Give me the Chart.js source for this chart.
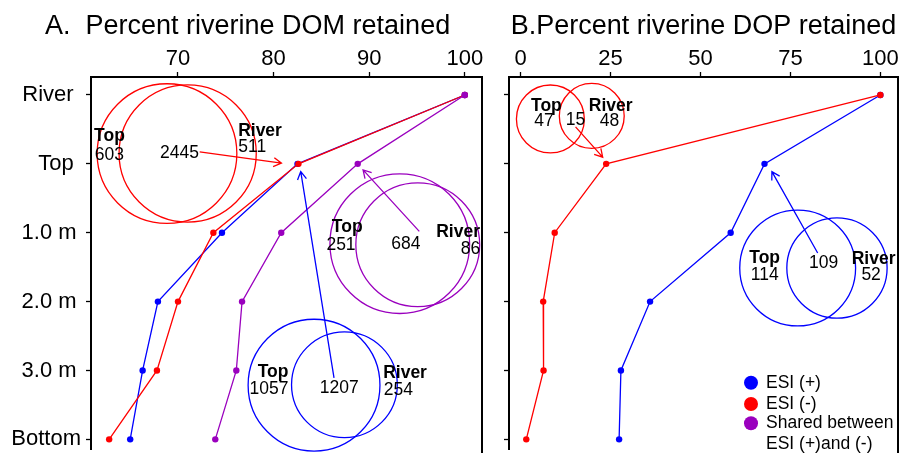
<!DOCTYPE html>
<html><head><meta charset="utf-8">
<script src="https://cdn.jsdelivr.net/npm/chart.js@4"></script>
<style>
html,body{margin:0;padding:0;background:#fff;overflow:hidden;width:902px;height:453px}
#ca{position:absolute;left:0;top:0}
#cb{position:absolute;left:492px;top:0}
</style></head><body>
<canvas id="ca" width="492" height="453"></canvas>
<canvas id="cb" width="410" height="453"></canvas>
<script>
// ---------- data ----------
const depths = ['River', 'Top', '1.0 m', '2.0 m', '3.0 m', 'Bottom'];
const domTicks = [70, 80, 90, 100];
const dopTicks = [0, 25, 50, 75, 100];

// A. Percent riverine DOM retained
const domEsiPlus  = [100, 82.5, 74.6, 67.9, 66.3, 65.0];
const domEsiMinus = [100, 82.6, 73.7, 70.0, 67.8, 62.8];
const domShared   = [100, 88.8, 80.8, 76.7, 76.1, 73.9];
// B. Percent riverine DOP retained
const dopEsiPlus  = [100, 67.8, 58.4, 36.0, 27.9, 27.4];
const dopEsiMinus = [100, 23.8, 9.5, 6.3, 6.4, 1.6];

// Venn counts [Top only, shared, River only]
const vennDomMinus  = [603, 2445, 511];
const vennDomShared = [251, 684, 86];
const vennDomPlus   = [1057, 1207, 254];
const vennDopMinus  = [47, 15, 48];
const vennDopPlus   = [114, 109, 52];

const legendLabels = ['ESI (+)', 'ESI (-)', 'Shared between', 'ESI (+)and (-)'];

// ---------- style ----------
const RED = '#FF0000', BLUE = '#0000FF', PURPLE = '#9A00BE';
const FONT = '"Liberation Sans", Arial, Helvetica, sans-serif';
// small trailing gaps so the depth labels sit like the original
const labelGap = ['\u2004', '\u2004', '\u2009', '\u2009', '\u2009', ''];

function series(vals, color) {
  return {
    data: vals.map((v, i) => ({x: v, y: i})),
    borderColor: color, backgroundColor: color,
    borderWidth: 1.3, pointRadius: 3.2, pointBorderWidth: 0,
    pointBackgroundColor: color, tension: 0
  };
}

// Venn layout in data units (x value, depth index, radius in depth units)
function venn(color, counts, L) {
  return {
    color,
    circles: L.circles,
    texts: [
      ['Top', L.top[0], L.top[1], true],
      [String(counts[0]), L.c0[0], L.c0[1]],
      [String(counts[1]), L.c1[0], L.c1[1]],
      ['River', L.riv[0], L.riv[1], true],
      [String(counts[2]), L.c2[0], L.c2[1]]
    ],
    arrow: L.arrow
  };
}

const vennsA = [
  venn(RED, vennDomMinus, {
    circles: [[68.85, 0.851, 1.014], [71.01, 0.849, 0.996]],
    top: [62.83, 0.662], c0: [62.83, 0.942], c1: [70.15, 0.913],
    riv: [78.58, 0.599], c2: [77.76, 0.826],
    arrow: [72.27, 0.826, 80.82, 0.99]
  }),
  venn(PURPLE, vennDomShared, {
    circles: [[93.2, 2.159, 1.014], [95.08, 2.174, 0.899]],
    top: [87.70, 1.996], c0: [87.05, 2.257], c1: [93.83, 2.236],
    riv: [99.3, 2.068], c2: [100.6, 2.309],
    arrow: [95.24, 1.981, 89.36, 1.087]
  }),
  venn(BLUE, vennDomPlus, {
    circles: [[84.23, 4.213, 0.957], [87.41, 4.207, 0.768]],
    top: [79.94, 4.097], c0: [79.51, 4.348], c1: [86.87, 4.323],
    riv: [93.75, 4.116], c2: [93.06, 4.358],
    arrow: [86.32, 4.106, 82.84, 1.112]
  })
];
const vennsB = [
  venn(RED, vennDopMinus, {
    circles: [[8.30, 0.348, 0.493], [19.80, 0.304, 0.471]],
    top: [7.19, 0.236], c0: [6.50, 0.445], c1: [15.29, 0.430],
    riv: [25.06, 0.236], c2: [24.70, 0.445],
    arrow: [15.29, 0.464, 22.84, 0.903]
  }),
  venn(BLUE, vennDopPlus, {
    circles: [[77.02, 2.512, 0.841], [87.94, 2.512, 0.728]],
    top: [67.84, 2.439], c0: [67.89, 2.681], c1: [84.21, 2.512],
    riv: [98.12, 2.449], c2: [97.43, 2.691],
    arrow: [82.58, 2.294, 69.86, 1.112]
  })
];

// ---------- plugins ----------
const annotPlugin = {
  id: 'annot',
  afterDatasetsDraw(chart, args, opts) {
    const ctx = chart.ctx, xs = chart.scales.x, ys = chart.scales.y;
    const ppu = Math.abs(ys.getPixelForValue(1) - ys.getPixelForValue(0));
    ctx.save();
    (opts.venns || []).forEach(v => {
      ctx.strokeStyle = v.color; ctx.lineWidth = 1.3;
      v.circles.forEach(c => {
        ctx.beginPath();
        ctx.arc(xs.getPixelForValue(c[0]), ys.getPixelForValue(c[1]), c[2] * ppu, 0, 2 * Math.PI);
        ctx.stroke();
      });
      ctx.fillStyle = '#000'; ctx.textAlign = 'center'; ctx.textBaseline = 'alphabetic';
      v.texts.forEach(t => {
        ctx.font = (t[3] ? 'bold ' : '') + '17.5px ' + FONT;
        ctx.fillText(t[0], xs.getPixelForValue(t[1]), ys.getPixelForValue(t[2]));
      });
      const a = v.arrow;
      const x1 = xs.getPixelForValue(a[0]), y1 = ys.getPixelForValue(a[1]);
      const x2 = xs.getPixelForValue(a[2]), y2 = ys.getPixelForValue(a[3]);
      const ang = Math.atan2(y2 - y1, x2 - x1), L = 9, s = Math.PI / 6;
      ctx.beginPath();
      ctx.moveTo(x1, y1); ctx.lineTo(x2, y2);
      ctx.moveTo(x2 - L * Math.cos(ang - s), y2 - L * Math.sin(ang - s));
      ctx.lineTo(x2, y2);
      ctx.lineTo(x2 - L * Math.cos(ang + s), y2 - L * Math.sin(ang + s));
      ctx.stroke();
    });
    ctx.restore();
  },
  afterDraw(chart, args, opts) {
    const ctx = chart.ctx, ca = chart.chartArea;
    ctx.save();
    // right frame line
    ctx.strokeStyle = '#000'; ctx.lineWidth = 2;
    ctx.beginPath(); ctx.moveTo(ca.right, ca.top - 1); ctx.lineTo(ca.right, chart.height); ctx.stroke();
    // title
    ctx.fillStyle = '#000'; ctx.font = '27px ' + FONT; ctx.textBaseline = 'alphabetic';
    if (opts.titleAlign === 'center') {
      ctx.textAlign = 'center';
      ctx.fillText(opts.title, (ca.left + ca.right) / 2, 34);
    } else {
      ctx.textAlign = 'left';
      ctx.fillText(opts.title, ca.left + opts.titleOffset, 34);
    }
    // legend
    if (opts.legend) {
      const lx = ca.right - 147, rows = [305.7, 327, 346.3, 367];
      const cols = [BLUE, RED, PURPLE, null];
      ctx.font = '17.5px ' + FONT; ctx.textAlign = 'left'; ctx.textBaseline = 'middle';
      legendLabels.forEach((t, i) => {
        const y = ca.top + rows[i];
        if (cols[i]) {
          ctx.fillStyle = cols[i];
          ctx.beginPath(); ctx.arc(lx, y, 7, 0, 2 * Math.PI); ctx.fill();
        }
        ctx.fillStyle = '#000';
        ctx.fillText(t, lx + 15, y);
      });
    }
    ctx.restore();
  }
};

function makeChart(id, datasets, xMin, xMax, xTicks, yWidth, padRight, showYLabels, annotOpts) {
  return new Chart(document.getElementById(id), {
    type: 'line',
    data: {datasets},
    plugins: [annotPlugin],
    options: {
      responsive: false, animation: false, devicePixelRatio: 1,
      layout: {padding: {top: 0, left: 0, right: padRight, bottom: 0}},
      plugins: {legend: {display: false}, tooltip: {enabled: false}, title: {display: false},
                annot: annotOpts},
      scales: {
        x: {
          type: 'linear', position: 'top', min: xMin, max: xMax,
          afterBuildTicks(s) { s.ticks = xTicks.map(v => ({value: v})); },
          afterFit(s) { s.height = 77; s.paddingLeft = 0; s.paddingRight = 0; },
          ticks: {color: '#000', font: {family: FONT, size: 22}, padding: 0, maxRotation: 0, autoSkip: false},
          grid: {drawOnChartArea: false, drawTicks: true, tickLength: 5, tickColor: '#000', tickWidth: 1.3},
          border: {display: true, color: '#000', width: 2}
        },
        y: {
          type: 'linear', position: 'left', reverse: true, min: -0.261, max: 5.14,
          afterBuildTicks(s) { s.ticks = depths.map((d, i) => ({value: i})); },
          afterFit(s) { s.width = yWidth; s.paddingTop = 0; s.paddingBottom = 0; },
          ticks: {color: '#000', font: {family: FONT, size: 22}, padding: 5, autoSkip: false,
                  callback: v => showYLabels ? depths[v] + labelGap[v] : ''},
          grid: {drawOnChartArea: false, drawTicks: true, tickLength: 5, tickColor: '#000', tickWidth: 1.3},
          border: {display: true, color: '#000', width: 2}
        }
      }
    }
  });
}

makeChart('ca',
  [series(domShared, PURPLE), series(domEsiMinus, RED), series(domEsiPlus, BLUE)],
  60.9, 101.8, domTicks, 91, 10, true,
  {venns: vennsA, title: 'A.  Percent riverine DOM retained', titleAlign: 'left', titleOffset: -46, legend: false});

makeChart('cb',
  [series(dopEsiMinus, RED), series(dopEsiPlus, BLUE)],
  -3.2, 104.9, dopTicks, 17, 2, false,
  {venns: vennsB, title: 'B.Percent riverine DOP retained', titleAlign: 'center', legend: true});
</script>
</body></html>
